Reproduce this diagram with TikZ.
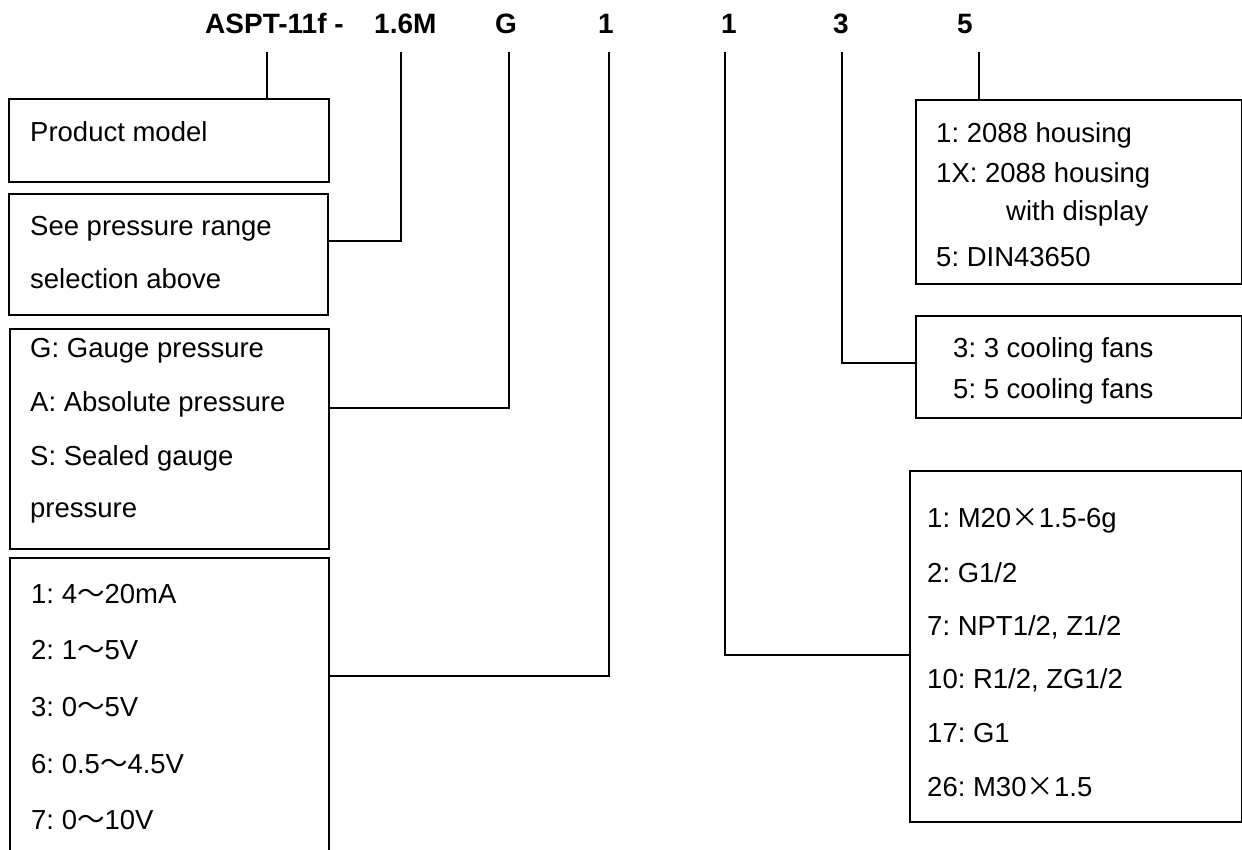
\documentclass[tikz,border=0pt]{standalone}
\usepackage{fontspec}
\setmainfont{Liberation Sans}
\newfontfamily\cjk{Noto Sans CJK SC}
\newcommand{\rng}{{\cjk ～}}
\newcommand{\tms}{{\cjk ×}}
\frenchspacing
\begin{document}
\begin{tikzpicture}[x=1pt,y=-1pt,
    code/.style={font=\fontsize{28}{32}\selectfont\bfseries,inner sep=0pt,anchor=base},
    optbox/.style={draw,line width=1.5pt,anchor=north west,inner sep=0pt},
    txt/.style={font=\fontsize{27.5}{30}\selectfont,inner sep=0pt,anchor=base west},
    wire/.style={line width=1.5pt}]
  \useasboundingbox (0,0) rectangle (1242,849);
  %-------------------------------------------------- the model code
  \node[code,anchor=base west] (c-model) at (205,33) {ASPT-11f -};
  \node[code,anchor=base west] (c-range) at (374,33) {1.6M};
  \node[code] (c-kind)    at (506,33) {G};
  \node[code] (c-out)     at (606,33) {1};
  \node[code] (c-thread)  at (729,33) {1};
  \node[code] (c-fans)    at (841,33) {3};
  \node[code] (c-housing) at (965,33) {5};
  %-------------------------------------------------- left column
  \node[optbox,minimum width=320pt,minimum height=83pt]  (model) at (8,98) {};
  \node[txt] (model-1) at (30,141) {Product model};
  \node[optbox,minimum width=319pt,minimum height=121pt] (range) at (8,193) {};
  \node[txt] (range-1) at (30,235) {See pressure range};
  \node[txt] (range-2) at (30,288) {selection above};
  \node[optbox,minimum width=319pt,minimum height=220pt] (kind) at (9,328) {};
  \node[txt] (kind-1) at (30,357) {G: Gauge pressure};
  \node[txt] (kind-2) at (30,411) {A: Absolute pressure};
  \node[txt] (kind-3) at (30,465) {S: Sealed gauge};
  \node[txt] (kind-4) at (30,517) {pressure};
  % this one runs on below the page edge
  \node[optbox,minimum width=319pt,minimum height=330pt] (out) at (9,557) {};
  \node[txt] (out-1) at (31,603) {1: 4\rng20mA};
  \node[txt] (out-2) at (31,659) {2: 1\rng5V};
  \node[txt] (out-3) at (31,716) {3: 0\rng5V};
  \node[txt] (out-4) at (31,773) {6: 0.5\rng4.5V};
  \node[txt] (out-5) at (31,829) {7: 0\rng10V};
  %-------------------------------------------------- right column
  \node[optbox,minimum width=326pt,minimum height=184pt] (housing) at (915,99) {};
  \node[txt] (housing-1) at (936,142)  {1: 2088 housing};
  \node[txt] (housing-2) at (936,182)  {1X: 2088 housing};
  \node[txt] (housing-3) at (1006,220) {with display};
  \node[txt] (housing-4) at (936,266)  {5: DIN43650};
  \node[optbox,minimum width=326pt,minimum height=102pt] (fans) at (915,315) {};
  \node[txt] (fans-1) at (953,357) {3: 3 cooling fans};
  \node[txt] (fans-2) at (953,398) {5: 5 cooling fans};
  \node[optbox,minimum width=332pt,minimum height=351pt] (thread) at (909,470) {};
  \node[txt] (thread-1) at (927,527) {1: M20\tms1.5-6g};
  \node[txt] (thread-2) at (927,582) {2: G1/2};
  \node[txt] (thread-3) at (927,635) {7: NPT1/2, Z1/2};
  \node[txt] (thread-4) at (927,688) {10: R1/2, ZG1/2};
  \node[txt] (thread-5) at (927,742) {17: G1};
  \node[txt] (thread-6) at (927,796) {26: M30\tms1.5};
  %-------------------------------------------------- leaders
  \coordinate (t-model)   at (267,52);
  \coordinate (t-range)   at (401,52);
  \coordinate (t-kind)    at (509,52);
  \coordinate (t-out)     at (609,52);
  \coordinate (t-thread)  at (725,52);
  \coordinate (t-fans)    at (842,52);
  \coordinate (t-housing) at (979,52);
  \coordinate (k-range)  at (401,241);
  \coordinate (k-kind)   at (509,408);
  \coordinate (k-out)    at (609,676);
  \coordinate (k-thread) at (725,655);
  \coordinate (k-fans)   at (842,363);
  \draw[wire] (t-model) -- (t-model |- model.north);
  \draw[wire] (t-range) -- (k-range) -- (k-range -| range.east);
  \draw[wire] (t-kind) -- (k-kind) -- (k-kind -| kind.east);
  \draw[wire] (t-out) -- (k-out) -- (k-out -| out.east);
  \draw[wire] (t-thread) -- (k-thread) -- (k-thread -| thread.west);
  \draw[wire] (t-fans) -- (k-fans) -- (k-fans -| fans.west);
  \draw[wire] (t-housing) -- (t-housing |- housing.north);
\end{tikzpicture}
\end{document}
